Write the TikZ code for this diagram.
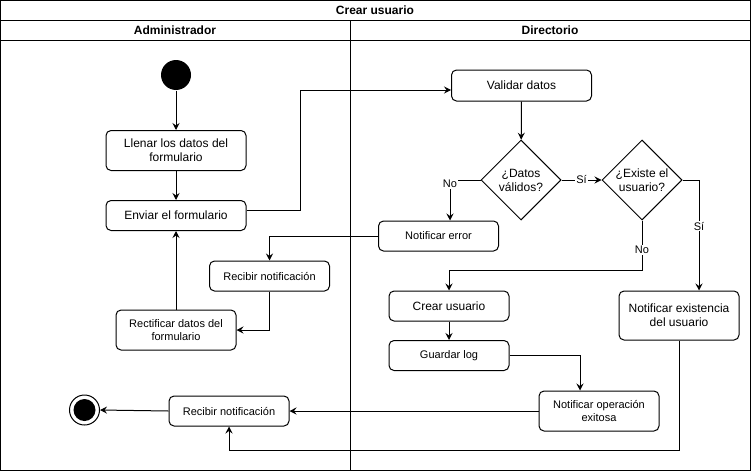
\documentclass[tikz,border=0pt]{standalone}
\usepackage{fontspec}
\setmainfont{Liberation Sans}
\usetikzlibrary{shapes.geometric,arrows.meta}
\begin{document}
\begin{tikzpicture}[x=1pt,y=-1pt,line width=1pt,
  act/.style={draw,rounded corners=5pt,align=center,inner sep=0pt,
    font=\fontsize{12}{14}\selectfont},
  actsm/.style={act,font=\fontsize{11}{13}\selectfont},
  dec/.style={draw,diamond,inner sep=0pt,minimum width=80pt,minimum height=80pt,
    align=center,font=\fontsize{12}{14}\selectfont},
  flow/.style={-{Stealth[length=7pt,width=7pt,inset=2.5pt]}},
  lbl/.style={fill=white,inner sep=1pt,font=\fontsize{11}{13}\selectfont},
  hdr/.style={font=\bfseries\fontsize{12}{14}\selectfont}]
  \useasboundingbox (0,0) rectangle (751,471);

  % pool frame, title row and lane headers
  \draw (0.5,0.5) rectangle (750.5,470.5);
  \draw (0.5,20) -- (750.5,20);
  \draw (0.5,40) -- (750.5,40);
  \draw (350,20) -- (350,470.5);
  \node[hdr] (title) at (375,10) {Crear usuario};
  \node[hdr] (laneA) at (175,30) {Administrador};
  \node[hdr] (laneD) at (550,30) {Directorio};

  % start and end states
  \node[circle,fill=black,minimum size=30pt,inner sep=0pt] (start) at (176,75) {};
  \node[circle,draw,fill=white,minimum size=30pt,inner sep=0pt] (end) at (84.5,410) {};
  \node[circle,fill=black,minimum size=22pt,inner sep=0pt] (endin) at (84.5,410) {};

  % Administrador lane
  \node[act,minimum width=140pt,minimum height=40pt] (llenar) at (176,150.5) {Llenar los datos del\\formulario};
  \node[act,minimum width=140pt,minimum height=30pt] (enviar) at (176,215.5) {Enviar el formulario};
  \node[actsm,minimum width=120pt,minimum height=30pt] (recibir1) at (269.5,276) {Recibir notificación};
  \node[actsm,minimum width=120pt,minimum height=40pt] (rectificar) at (176,330) {Rectificar datos del\\formulario};
  \node[actsm,minimum width=120pt,minimum height=30pt] (recibir2) at (229,411) {Recibir notificación};

  % Directorio lane
  \node[act,minimum width=140pt,minimum height=31pt] (validar) at (521.5,85.5) {Validar datos};
  \node[dec] (validos) at (521,180) {¿Datos\\válidos?};
  \node[dec] (existe) at (642,180) {¿Existe el\\usuario?};
  \node[actsm,minimum width=120pt,minimum height=30pt] (error) at (438.5,236) {Notificar error};
  \node[act,minimum width=120pt,minimum height=30pt] (crear) at (449,306) {Crear usuario};
  \node[actsm,minimum width=120pt,minimum height=30pt] (log) at (449,355.5) {Guardar log};
  \node[act,minimum width=120pt,minimum height=49pt] (existencia) at (679,315.5) {Notificar existencia\\del usuario};
  \node[actsm,minimum width=120pt,minimum height=40pt] (exito) at (599,411) {Notificar operación\\exitosa};

  % bend points
  \coordinate (a1) at ([yshift=5pt]enviar.east);
  \coordinate (a2) at ([yshift=-4.5pt]validar.west);
  \coordinate (b1) at (300,210.5);
  \coordinate (b2) at (300,90);
  \coordinate (b3) at (450,180);
  \coordinate (b4) at (269.5,236);
  \coordinate (b5) at (269.5,330);
  \coordinate (b6) at (642,270);
  \coordinate (b7) at (449,270);
  \coordinate (b8) at (699,180);
  \coordinate (b9) at (580,355.5);
  \coordinate (b10) at (679,450);
  \coordinate (b11) at (229,450);

  % control flow
  \draw[flow] (start) -- (llenar);
  \draw[flow] (llenar) -- (enviar);
  \draw[flow] (a1) -- (b1) -- (b2) -- (a2);
  \draw[flow] (validar) -- (validos);
  \draw[flow] (validos.east) -- node[lbl] {Sí} (existe.west);
  \draw[flow] (validos.west) -- (b3) -- (b3 |- error.north);
  \node[lbl] (lno1) at (450,184) {No};
  \draw[flow] (error.west) -- (b4) -- (recibir1.north);
  \draw[flow] (recibir1.south) -- (b5) -- (rectificar.east);
  \draw[flow] (rectificar.north) -- (enviar.south);
  \draw[flow] (existe.south) -- (b6) -- (b7) -- (crear.north);
  \node[lbl] (lno2) at (642,250) {No};
  \draw[flow] (existe.east) -- (b8) -- (b8 |- existencia.north);
  \node[lbl] (lsi2) at (699,226) {Sí};
  \draw[flow] (crear) -- (log);
  \draw[flow] (log.east) -- (b9) -- (b9 |- exito.north);
  \draw[flow] (exito.west) -- (recibir2.east);
  \draw[flow] (existencia.south) -- (b10) -- (b11) -- (recibir2.south);
  \draw[flow] (recibir2.west) -- (end.east);
\end{tikzpicture}
\end{document}
